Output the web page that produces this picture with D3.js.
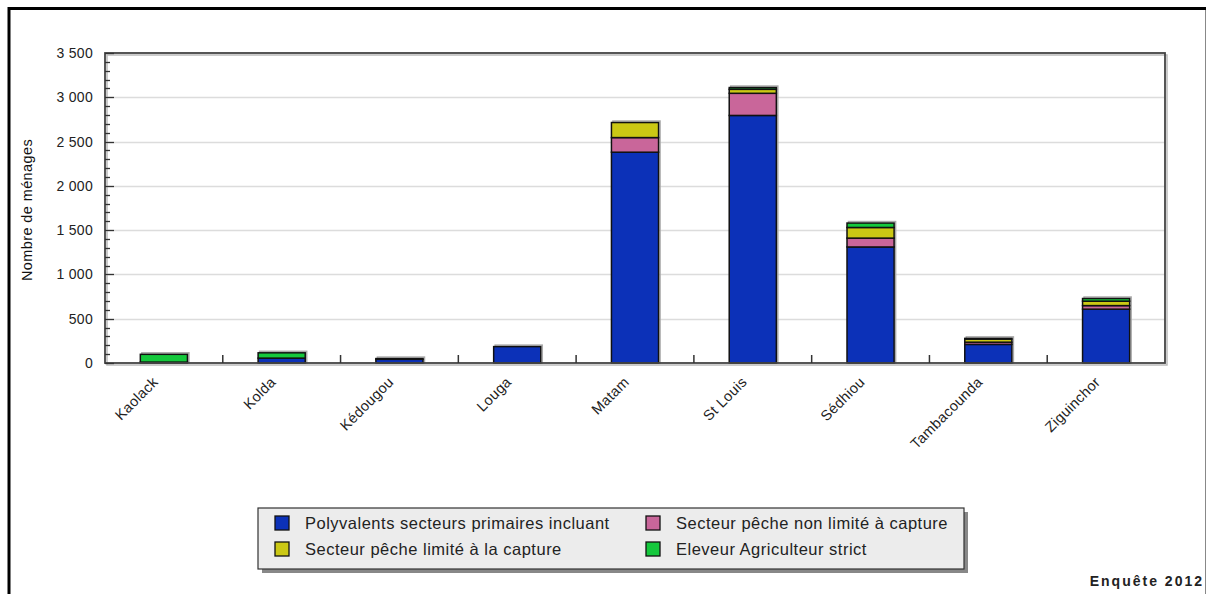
<!DOCTYPE html>
<html><head><meta charset="utf-8">
<script src="https://cdn.jsdelivr.net/npm/d3@7"></script>
<style>
html,body{margin:0;padding:0;background:#fff;}
svg{display:block;font-family:"Liberation Sans",Arial,sans-serif;}
</style></head>
<body>
<svg id="chart" width="1206" height="594"></svg>
<script>
const categories = ["Kaolack","Kolda","Kédougou","Louga","Matam","St Louis","Sédhiou","Tambacounda","Ziguinchor"];
const seriesNames = ["Polyvalents secteurs primaires incluant","Secteur pêche non limité à capture","Secteur pêche limité à la capture","Eleveur Agriculteur strict"];
const polyvalents = [10, 55, 42, 185, 2380, 2795, 1310, 210, 608];
const pecheNonLimite = [0, 0, 0, 0, 165, 250, 100, 25, 40];
const pecheLimite = [0, 0, 0, 0, 170, 45, 120, 35, 50];
const eleveur = [88, 60, 8, 0, 0, 20, 50, 8, 30];
const yTicks = [0, 500, 1000, 1500, 2000, 2500, 3000, 3500];
const colors = ["#0c31b8", "#c9669a", "#cbc814", "#14c83c"];
const legendOrder = [0, 1, 2, 3];

const svg = d3.select("#chart");
const W = 1206, H = 594;
const m = {left:105, top:53, right:1165, bottom:363};

// frame
svg.append("rect").attr("x",0).attr("y",0).attr("width",W).attr("height",H).attr("fill","#fff");
svg.append("line").attr("x1",8).attr("x2",W).attr("y1",8.5).attr("y2",8.5).attr("stroke","#000").attr("stroke-width",3);
svg.append("line").attr("x1",9).attr("x2",9).attr("y1",7).attr("y2",H).attr("stroke","#000").attr("stroke-width",3);
svg.append("line").attr("x1",1205.5).attr("x2",1205.5).attr("y1",10).attr("y2",H).attr("stroke","#888").attr("stroke-width",1);

const x = d3.scaleBand().domain(categories).range([m.left, m.right]).paddingInner(0).paddingOuter(0);
const y = d3.scaleLinear().domain([0,3500]).range([m.bottom, m.top]);

const data = categories.map((c,i)=>({cat:c, s0:polyvalents[i], s1:pecheNonLimite[i], s2:pecheLimite[i], s3:eleveur[i]}));
const stack = d3.stack().keys(["s0","s1","s2","s3"])(data);

// plot shadow
svg.append("rect").attr("x",m.left+2).attr("y",m.top+2).attr("width",m.right-m.left).attr("height",m.bottom-m.top)
  .attr("fill","none").attr("stroke","#bbb").attr("stroke-width",1.5);

// gridlines
svg.append("g").selectAll("line").data(yTicks.filter(t=>t>0 && t<3500)).join("line")
  .attr("x1",m.left).attr("x2",m.right).attr("y1",d=>Math.round(y(d))+0.5).attr("y2",d=>Math.round(y(d))+0.5)
  .attr("stroke","#dcdcdc").attr("stroke-width",1.5);

// bars
const bw = x.bandwidth()*0.4;
const barG = svg.append("g");
barG.selectAll("rect.sh").data(data).join("rect").attr("class","sh")
  .attr("x",d=>x(d.cat)+(x.bandwidth()-bw)/2+1.5)
  .attr("y",d=>y(d.s0+d.s1+d.s2+d.s3)-1.5)
  .attr("width",bw).attr("height",d=>y(0)-y(d.s0+d.s1+d.s2+d.s3)+1.5)
  .attr("fill","none").attr("stroke","#aaa").attr("stroke-width",1.5);
stack.forEach((layer,k)=>{
  barG.append("g").selectAll("rect").data(layer.filter(d=>d[1]-d[0]>0)).join("rect")
    .attr("x",d=>x(d.data.cat)+(x.bandwidth()-bw)/2)
    .attr("y",d=>y(d[1]))
    .attr("width",bw)
    .attr("height",d=>y(d[0])-y(d[1]))
    .attr("fill",colors[k]).attr("stroke","#111").attr("stroke-width",1.5);
});

// plot border
svg.append("rect").attr("x",m.left).attr("y",m.top).attr("width",m.right-m.left).attr("height",m.bottom-m.top)
  .attr("fill","none").attr("stroke","#444").attr("stroke-width",1.8);

// y axis
const loc = d3.formatLocale({decimal:",", thousands:" ", grouping:[3], currency:["","€"]});
const fmt = loc.format(",d");
const yAxis = d3.axisLeft(y).tickValues(yTicks).tickSize(0).tickPadding(12).tickFormat(fmt);
const ya = svg.append("g").attr("transform",`translate(${m.left},0)`).call(yAxis);
ya.select(".domain").remove();
ya.selectAll("text").attr("font-size",14).attr("letter-spacing",0.3).attr("fill","#222").attr("font-family","Liberation Sans, Arial, sans-serif");
const minor = d3.range(0,3501,100);
svg.append("g").selectAll("line").data(minor).join("line")
  .attr("x1",m.left).attr("x2",d=>m.left+(d%500===0?9:5))
  .attr("y1",d=>Math.round(y(d))+0.5).attr("y2",d=>Math.round(y(d))+0.5)
  .attr("stroke","#333").attr("stroke-width",1.3);

// x axis ticks at band boundaries
svg.append("g").selectAll("line").data(categories.slice(1)).join("line")
  .attr("x1",d=>x(d)).attr("x2",d=>x(d)).attr("y1",m.bottom).attr("y2",m.bottom-8)
  .attr("stroke","#333").attr("stroke-width",1.5);

// x labels
svg.append("g").selectAll("text").data(categories).join("text")
  .attr("transform",d=>`translate(${x(d)+x.bandwidth()/2-5},${m.bottom+20}) rotate(-45)`)
  .attr("text-anchor","end").attr("font-size",14.5).attr("letter-spacing",0.3).attr("fill","#222")
  .text(d=>d);

// y title
svg.append("text").attr("transform",`translate(32,${(m.top+m.bottom)/2+2}) rotate(-90)`)
  .attr("text-anchor","middle").attr("font-size",14.5).attr("letter-spacing",0.4).attr("fill","#111").text("Nombre de ménages");

// legend
const lg = svg.append("g");
lg.append("rect").attr("x",262).attr("y",512).attr("width",706).attr("height",61).attr("fill","#888");
lg.append("rect").attr("x",258).attr("y",508).attr("width",706).attr("height",61).attr("fill","#ececec").attr("stroke","#333").attr("stroke-width",1.2);
const pos = [[275,516],[646,516],[275,542],[646,542]];
legendOrder.forEach((si,j)=>{
  const [px,py] = pos[j];
  lg.append("rect").attr("x",px).attr("y",py).attr("width",14).attr("height",14).attr("fill",colors[si]).attr("stroke","#111").attr("stroke-width",1.3);
  lg.append("text").attr("x",px+30).attr("y",py+12.5).attr("font-size",16.5).attr("letter-spacing",0.5).attr("fill","#222").text(seriesNames[si]);
});

// footer
svg.append("text").attr("x",1204).attr("y",586).attr("text-anchor","end").attr("font-size",14)
  .attr("font-weight","bold").attr("letter-spacing",2).attr("fill","#222").text("Enquête 2012");
</script>
</body></html>
